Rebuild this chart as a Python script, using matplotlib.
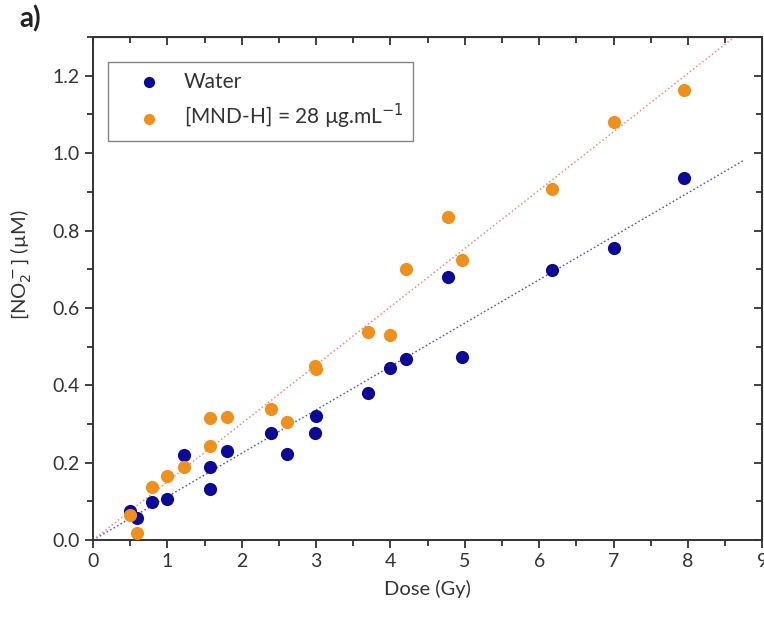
import matplotlib

matplotlib.use("Agg")
import matplotlib.pyplot as plt
import numpy as np
from matplotlib.ticker import MultipleLocator

plt.rcParams["font.family"] = ["Lato", "DejaVu Sans"]

# dose (Gy) and nitrite concentration (uM)
water_dose = [0.50, 0.59, 0.80, 1.00, 1.23, 1.57, 1.57, 1.80, 2.40, 2.61,
              2.98, 3.00, 3.70, 4.00, 4.21, 4.77, 4.96, 6.17, 7.01, 7.95]
water_no2 = [0.075, 0.057, 0.098, 0.106, 0.220, 0.190, 0.133, 0.230, 0.276, 0.222,
             0.276, 0.320, 0.380, 0.446, 0.467, 0.680, 0.472, 0.697, 0.754, 0.937]

mnd_dose = [0.50, 0.59, 0.80, 1.00, 1.22, 1.57, 1.57, 1.80, 2.40, 2.61,
            2.98, 3.00, 3.70, 4.00, 4.21, 4.77, 4.96, 6.17, 7.01, 7.95]
mnd_no2 = [0.065, 0.018, 0.137, 0.165, 0.190, 0.315, 0.243, 0.317, 0.340, 0.305,
           0.450, 0.442, 0.537, 0.530, 0.700, 0.836, 0.725, 0.908, 1.080, 1.164]

WATER_COLOR = "#0a0a96"
MND_COLOR = "#f0901c"
AXIS_COLOR = "#333333"


def slope_through_origin(x, y):
    x = np.asarray(x)
    y = np.asarray(y)
    return float(np.sum(x * y) / np.sum(x * x))


fig = plt.figure(figsize=(7.64, 6.28), dpi=100, facecolor="white")
ax = fig.add_axes([0.1217, 0.140, 0.876, 0.801])

fit_x = np.array([0.0, 8.75])
ax.plot(fit_x, slope_through_origin(water_dose, water_no2) * fit_x, ls=(0, (1, 1.6)),
        color="#5a5aa0", lw=1.1, zorder=1)
ax.plot(fit_x, slope_through_origin(mnd_dose, mnd_no2) * fit_x, ls=(0, (1, 1.6)),
        color="#f08a80", lw=1.1, zorder=1)

ax.scatter(water_dose, water_no2, s=90, color=WATER_COLOR, lw=0, zorder=3, label="Water")
ax.scatter(mnd_dose, mnd_no2, s=90, color=MND_COLOR, lw=0, zorder=3,
           label="[MND-H] = 28 µg.mL$^{-1}$")

ax.set_xlim(0, 9)
ax.set_ylim(0, 1.3)
ax.xaxis.set_major_locator(MultipleLocator(1))
ax.xaxis.set_minor_locator(MultipleLocator(0.5))
ax.yaxis.set_minor_locator(MultipleLocator(0.1))
ax.set_yticks(np.arange(0, 1.21, 0.2))
ax.set_yticklabels([f"{v:.1f}" for v in np.arange(0, 1.21, 0.2)])

ax.tick_params(which="both", direction="out", top=False, right=False, colors=AXIS_COLOR,
               labelsize=14, width=1.3)
ax.tick_params(which="major", length=6)
ax.tick_params(which="minor", length=4)
for side in ["left", "right", "top", "bottom"]:
    ax.spines[side].set_linewidth(1.4)
    ax.spines[side].set_color(AXIS_COLOR)

# inward ticks mirrored on top and right
top = ax.secondary_xaxis("top")
top.xaxis.set_major_locator(MultipleLocator(1))
top.xaxis.set_minor_locator(MultipleLocator(0.5))
top.tick_params(which="both", direction="in", labeltop=False, width=1.3, colors=AXIS_COLOR)
top.tick_params(which="major", length=6)
top.tick_params(which="minor", length=4)
right = ax.secondary_yaxis("right")
right.yaxis.set_major_locator(MultipleLocator(0.2))
right.yaxis.set_minor_locator(MultipleLocator(0.1))
right.tick_params(which="both", direction="in", labelright=False, width=1.3, colors=AXIS_COLOR)
right.tick_params(which="major", length=6)
right.tick_params(which="minor", length=4)

ax.set_xlabel("Dose (Gy)", fontsize=14.5, color=AXIS_COLOR, labelpad=7)
ax.set_ylabel("[NO$_2^-$] (µM)", fontsize=14.5, color=AXIS_COLOR)
ax.yaxis.set_label_coords(-0.088, 0.547)

leg = ax.legend(loc="upper left", bbox_to_anchor=(0.0224, 0.950), borderaxespad=0,
                fontsize=15, frameon=True, fancybox=False, edgecolor="#666666",
                borderpad=0.45, handlelength=3.0, handletextpad=0.2, labelspacing=0.5,
                markerscale=0.85)
leg.get_frame().set_linewidth(1.0)
for t in leg.get_texts():
    t.set_color(AXIS_COLOR)

fig.text(0.026, 0.992, "a)", fontsize=20, fontweight="bold", ha="left", va="top", color="#222222")

fig.savefig("out.png", dpi=100, facecolor="white")
